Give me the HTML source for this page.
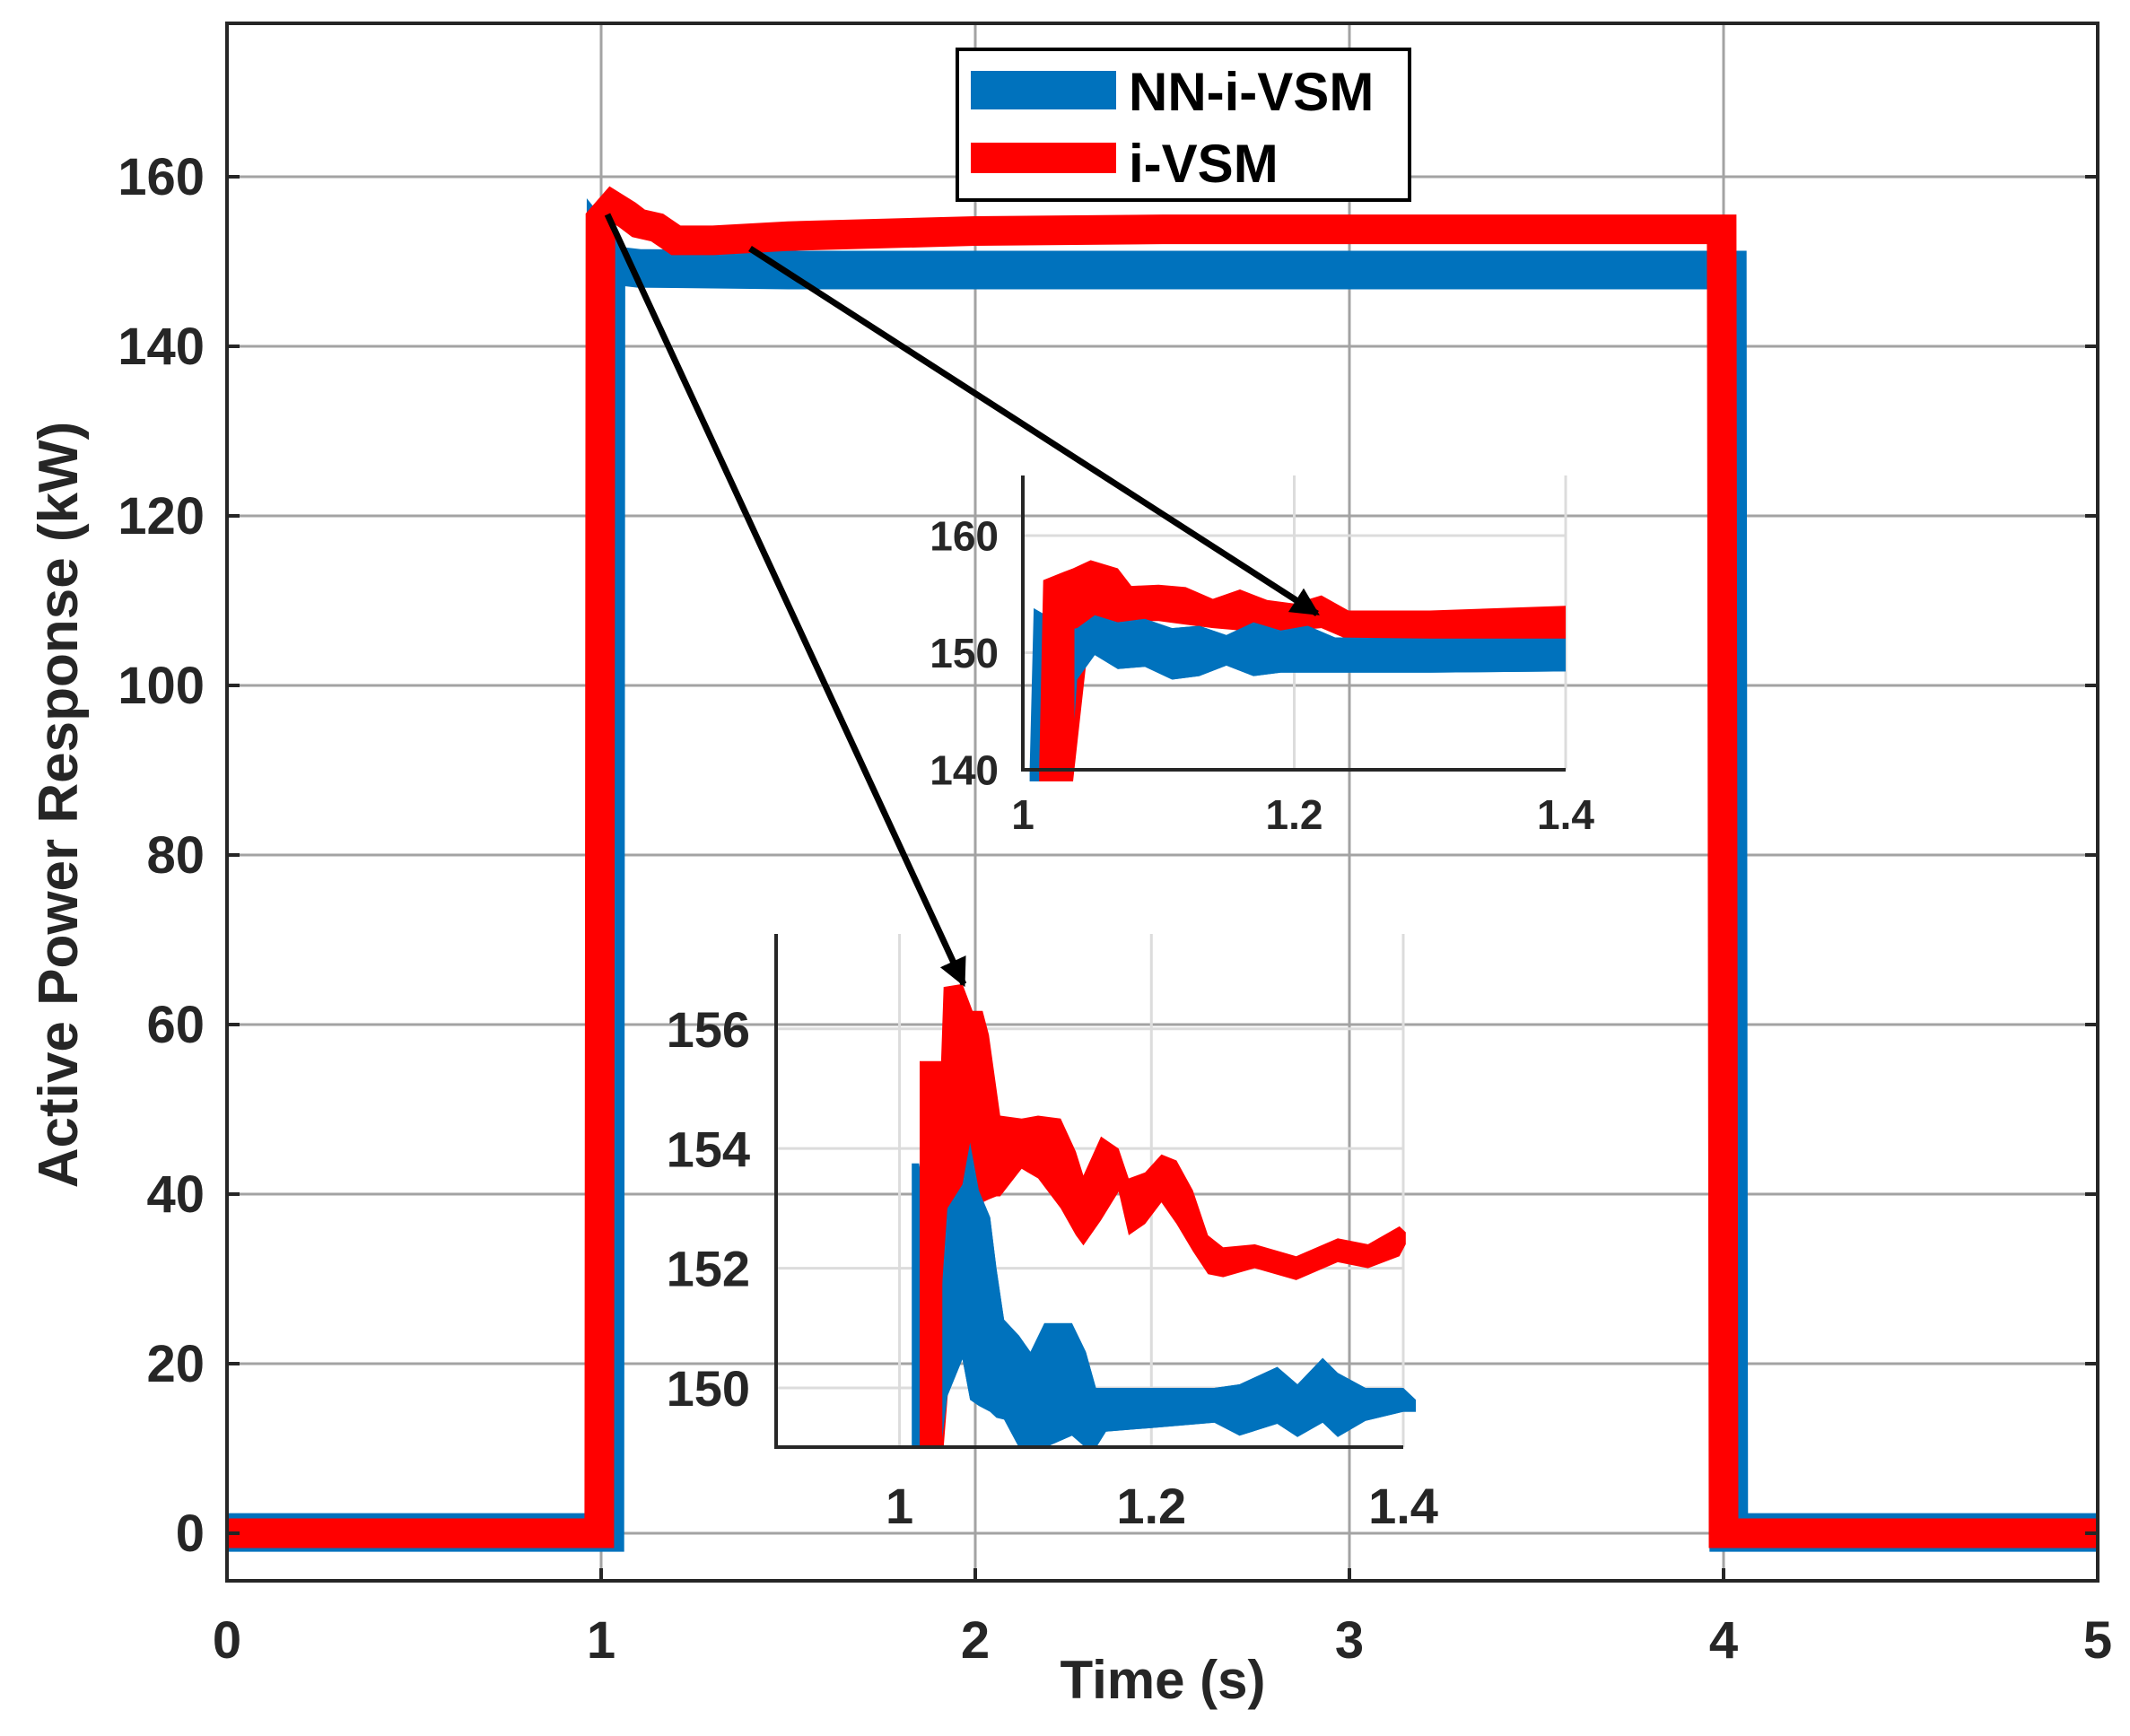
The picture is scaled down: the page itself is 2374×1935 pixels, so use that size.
<!DOCTYPE html>
<html><head><meta charset="utf-8">
<style>
html,body{margin:0;padding:0;background:#fff;}
svg{display:block;font-family:"Liberation Sans",Arial,sans-serif;}
</style></head>
<body>
<svg id="chart" width="2374" height="1935" viewBox="0 0 2374 1935" xmlns="http://www.w3.org/2000/svg">
<defs>
<clipPath id="mainClip"><rect x="253" y="26" width="2085" height="1736"/></clipPath>
<marker id="arrowHead" markerWidth="4.5" markerHeight="4.5" refX="4" refY="2.25" orient="auto" markerUnits="strokeWidth"><path d="M0,0 L4.5,2.25 L0,4.5 Z" fill="#000"/></marker>
</defs>
<g id="mainGrid"></g>
<g id="mainSeries" clip-path="url(#mainClip)"></g>
<g id="inset1"></g>
<g id="inset2"></g>
<g id="mainAxes"></g>
<line x1="677" y1="239" x2="1074" y2="1097" stroke="#000" stroke-width="7" marker-end="url(#arrowHead)"/>
<line x1="836" y1="277" x2="1468" y2="684" stroke="#000" stroke-width="7" marker-end="url(#arrowHead)"/>
<g>
<rect x="1067" y="55" width="504" height="168" fill="#fff" stroke="#000" stroke-width="4"/>
<rect x="1082" y="79" width="162" height="43" fill="#0072BD"/>
<text x="1258" y="123" font-size="60" font-weight="bold" fill="#000">NN-i-VSM</text>
<rect x="1082" y="159" width="162" height="34" fill="#FF0000"/>
<text x="1258" y="203" font-size="60" font-weight="bold" fill="#000">i-VSM</text>
</g>
<text x="1296" y="1893" font-size="60" font-weight="bold" fill="#262626" text-anchor="middle">Time (s)</text>
<text transform="translate(86,897) rotate(-90)" font-size="62" font-weight="bold" fill="#262626" text-anchor="middle">Active Power Response (kW)</text>
</svg>
<script>
// ---- main chart data ----
const xTicks = [0,1,2,3,4,5];
const yTicks = [0,20,40,60,80,100,120,140,160];
const redT = [0,0.995,0.998,1.03,1.07,1.1,1.15,1.2,1.3,1.5,2.0,2.5,3.0,3.5,3.995,4.0,5];
const redV = [0,0,155,156.6,155.5,154.5,154,152.5,152.5,153,153.6,153.8,153.8,153.8,153.8,0,0];
const blueT = [0,1.01,1.013,1.04,1.1,1.5,2,3,4.01,4.014,5];
const blueV = [0.1,0.1,151,149.5,149.2,149,149,149,149,0.1,0.1];
// ---- upper inset data ----
const in1XTicks = [1,1.2,1.4];
const in1YTicks = [140,150,160];
const in1T      = [1.005,1.008,1.035,1.04,1.053,1.07,1.09,1.11,1.13,1.15,1.17,1.19,1.21,1.23,1.3,1.4];
const in1BlueHi = [140,153.8,152,152.1,153.2,152.6,152.9,152.1,152.3,151.5,152.6,151.9,152.3,151.3,151.2,151.2];
const in1BlueLo = [139,139,139,147.7,149.8,148.6,148.8,147.7,148,148.9,148,148.3,148.3,148.3,148.3,148.4];
const in1RT     = [1.012,1.015,1.03,1.037,1.05,1.07,1.08,1.10,1.12,1.14,1.16,1.18,1.2,1.22,1.24,1.3,1.4];
const in1RedHi  = [140,156.2,156.9,157.2,157.9,157.2,155.7,155.8,155.6,154.6,155.4,154.5,154.2,154.9,153.6,153.6,154];
const in1RedLo  = [139,139,139,139,152.5,152.6,152.7,152.7,152.4,152.1,151.9,151.6,151.9,152.1,151.1,151.1,151.1];
// ---- lower inset data ----
const in2XTicks = [1,1.2,1.4];
const in2YTicks = [150,152,154,156];
const in2RT    = [1.016,1.033,1.035,1.05,1.058,1.066,1.071,1.077,1.08,1.097,1.11,1.128,1.14,1.146,1.16,1.174,1.182,1.195,1.208,1.22,1.233,1.245,1.257,1.282,1.315,1.348,1.372,1.397,1.402];
const in2RedHi = [155.46,155.46,156.7,156.75,156.3,156.3,155.9,155.0,154.55,154.5,154.55,154.5,153.95,153.55,154.2,154.0,153.5,153.6,153.9,153.8,153.3,152.55,152.35,152.4,152.2,152.5,152.4,152.7,152.6];
const in2RedLo = [149,149,149,153.0,153.0,153.1,153.15,153.2,153.2,153.66,153.5,153.0,152.55,152.38,152.8,153.28,152.55,152.74,153.1,152.74,152.28,151.9,151.85,152.0,151.8,152.1,152.0,152.2,152.4];
const in2BT     = [1.0097,1.0155,1.033,1.038,1.05,1.056,1.063,1.072,1.077,1.083,1.095,1.104,1.115,1.137,1.148,1.156,1.164,1.2,1.25,1.27,1.3,1.316,1.336,1.348,1.37,1.4,1.41];
const in2BlueHi = [153.75,153.75,151.47,153.0,153.4,154.1,153.3,152.85,152.0,151.14,150.87,150.6,151.08,151.08,150.6,150.0,150.0,150.0,150.0,150.06,150.35,150.06,150.5,150.25,150.0,150.0,149.8];
const in2BlueLo = [149,149,149,149.86,150.48,149.8,149.7,149.6,149.5,149.47,149.0,149.0,149.0,149.2,149.0,149.0,149.27,149.33,149.42,149.2,149.4,149.18,149.42,149.18,149.45,149.6,149.6];

const NS = "http://www.w3.org/2000/svg";
function mk(tag, attrs, parent){const e=document.createElementNS(NS,tag);for(const k in attrs)e.setAttribute(k,attrs[k]);parent.appendChild(e);return e;}

const X0=253, X1=2338, YB=1762, YT=26;
const xMain = t => X0 + t*(X1-X0)/5;
const yMain = v => 1709 - v*9.45;

const grid = document.getElementById('mainGrid');
const axes = document.getElementById('mainAxes');
xTicks.forEach(t=>{
  const x=xMain(t);
  if(t>0&&t<5){const g=mk('line',{x1:x,y1:YT,x2:x,y2:YB,stroke:'#a3a3a3','stroke-width':3},grid);
  
  }
  const tk=mk('line',{x1:x,y1:YB,x2:x,y2:YB-14,stroke:'#262626','stroke-width':4},axes);
  
  
  const tx=mk('text',{x:x,y:1848,'font-size':58,'font-weight':'bold',fill:'#262626','text-anchor':'middle'},axes);
  tx.textContent=t;
  
  
});
yTicks.forEach(v=>{
  const y=yMain(v);
  const g=mk('line',{x1:X0,y1:y,x2:X1,y2:y,stroke:'#a3a3a3','stroke-width':3},grid);
  
  
  const tk=mk('line',{x1:X0,y1:y,x2:X0+14,y2:y,stroke:'#262626','stroke-width':4},axes);
  
  
  const tk2=mk('line',{x1:X1,y1:y,x2:X1-14,y2:y,stroke:'#262626','stroke-width':4},axes);
  
  
  const tx=mk('text',{x:228,y:y+20,'font-size':58,'font-weight':'bold',fill:'#262626','text-anchor':'end'},axes);
  tx.textContent=v;
  
  
});
const box=mk('rect',{x:X0,y:YT,width:X1-X0,height:YB-YT,fill:'none',stroke:'#262626','stroke-width':4},axes);



const ms=document.getElementById('mainSeries');
function pts(T,V,fx,fy){return T.map((t,i)=>fx(t).toFixed(1)+','+fy(V[i]).toFixed(1)).join(' ');}
const bl=mk('polyline',{points:pts(blueT,blueV,xMain,yMain),fill:'none',stroke:'#0072BD','stroke-width':43,'stroke-linejoin':'miter'},ms);


const rl=mk('polyline',{points:pts(redT,redV,xMain,yMain),fill:'none',stroke:'#FF0000','stroke-width':33,'stroke-linejoin':'miter'},ms);



function band(T,H,L,fx,fy){
  const up=T.map((t,i)=>fx(t).toFixed(1)+','+fy(H[i]).toFixed(1));
  const dn=T.map((t,i)=>fx(t).toFixed(1)+','+fy(L[i]).toFixed(1)).reverse();
  return up.concat(dn).join(' ');
}

function drawInset(gid, cfg){
  const g=document.getElementById(gid);
  const fx=t=>cfg.xl+(t-cfg.t0)*(cfg.xr-cfg.xl)/(cfg.t1-cfg.t0);
  const fy=v=>cfg.yb-(v-cfg.v0)*(cfg.yb-cfg.yt)/(cfg.v1-cfg.v0);
  cfg.xt.forEach(t=>{
    const x=fx(t);
    const l=mk('line',{x1:x,y1:cfg.yt,x2:x,y2:cfg.yb,stroke:'#dcdcdc','stroke-width':3},g);
    
    
    const tx=mk('text',{x:x,y:cfg.xly,'font-size':cfg.fs,'font-weight':'bold',fill:'#262626','text-anchor':'middle'},g);
    tx.textContent=t;
    
    
  });
  cfg.yt_.forEach(v=>{
    const y=fy(v);
    const l=mk('line',{x1:cfg.xl,y1:y,x2:cfg.xr,y2:y,stroke:'#dcdcdc','stroke-width':3},g);
    
    
    const tx=mk('text',{x:cfg.ylx,y:y+cfg.fs*0.36,'font-size':cfg.fs,'font-weight':'bold',fill:'#262626','text-anchor':'end'},g);
    tx.textContent=v;
    
    
  });
  const b1=mk('polygon',{points:band(cfg.bT,cfg.bH,cfg.bL,fx,fy),fill:'#0072BD'},g);
  
  
  const r1=mk('polygon',{points:band(cfg.rT,cfg.rH,cfg.rL,fx,fy),fill:'#FF0000'},g);
  
  
  const cid=gid+'Clip';
  const cp=mk('clipPath',{id:cid},g);
  mk('rect',{x:fx(cfg.cut),y:0,width:2000,height:2000},cp);
  const b2=mk('polygon',{points:band(cfg.bT,cfg.bH,cfg.bL,fx,fy),fill:'#0072BD','clip-path':'url(#'+cid+')'},g);
  
  
  const ax=mk('polyline',{points:cfg.xl+','+cfg.yt+' '+cfg.xl+','+cfg.yb+' '+cfg.xr+','+cfg.yb,fill:'none',stroke:'#262626','stroke-width':4},g);
  
  
}
drawInset('inset1',{xl:1140,xr:1745,yt:530,yb:858,t0:1,t1:1.4,v0:140,v1:140+328/13.05,
  xt:in1XTicks,yt_:in1YTicks,xly:924,ylx:1113,fs:46,
  bT:in1T,bH:in1BlueHi,bL:in1BlueLo,rT:in1RT,rH:in1RedHi,rL:in1RedLo,cut:1.038});
drawInset('inset2',{xl:865,xr:1564,yt:1041,yb:1613,t0:0.902,t1:1.4,v0:149.01,v1:149.01+572/66.7,
  xt:in2XTicks,yt_:in2YTicks,xly:1698,ylx:836,fs:56,
  bT:in2BT,bH:in2BlueHi,bL:in2BlueLo,rT:in2RT,rH:in2RedHi,rL:in2RedLo,cut:1.034});
</script>
</body></html>
